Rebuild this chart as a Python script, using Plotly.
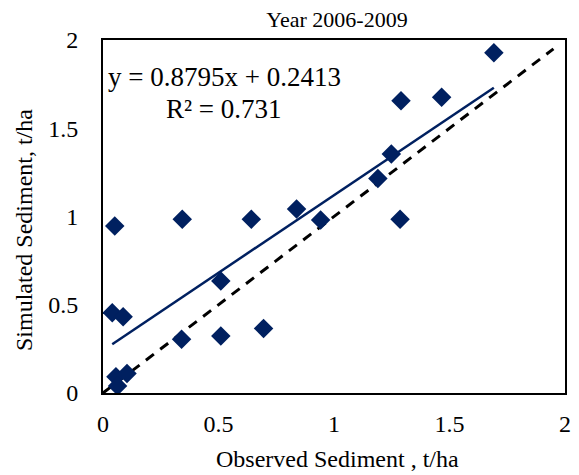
import plotly.graph_objects as go

# Data
observed = [0.051, 0.343, 0.642, 0.838, 0.942, 0.040, 0.087, 0.510, 0.340, 0.510,
            0.695, 0.056, 0.104, 0.063, 1.692, 1.290, 1.466, 1.248, 1.190, 1.286]
simulated = [0.946, 0.984, 0.984, 1.042, 0.980, 0.455, 0.432, 0.635, 0.304, 0.323,
             0.366, 0.092, 0.111, 0.040, 1.928, 1.656, 1.675, 1.354, 1.216, 0.984]
slope = 0.8795
intercept = 0.2413
r_squared = 0.731
one_to_one = [0, 1.95]
ticks = [0, 0.5, 1, 1.5, 2]
tick_labels = ["0", "0.5", "1", "1.5", "2"]

FONT = "Liberation Serif, Times New Roman, serif"
NAVY = "#002060"
W, H = 579, 475
L, R, T, B = 103, 8, 40, 82
PW, PH = W - L - R, H - T - B


def px(xp):
    return (xp - L) / PW


def py(yp):
    return (H - B - yp) / PH


fit_x = [min(observed), max(observed)]
fit_y = [slope * v + intercept for v in fit_x]

fig = go.Figure()
fig.add_trace(go.Scatter(x=one_to_one, y=one_to_one, mode="lines",
                         line=dict(color="black", width=3, dash="10px,8px"),
                         showlegend=False, hoverinfo="skip"))
fig.add_trace(go.Scatter(x=fit_x, y=fit_y, mode="lines",
                         line=dict(color=NAVY, width=2.5),
                         showlegend=False, hoverinfo="skip"))
fig.add_trace(go.Scatter(x=observed, y=simulated, mode="markers",
                         marker=dict(symbol="diamond", size=15, color=NAVY),
                         showlegend=False))

fig.add_annotation(x=px(226), y=py(77), xref="paper", yref="paper",
                   xanchor="center", yanchor="middle",
                   showarrow=False, text=f"y = {slope}x + {intercept}",
                   font=dict(family=FONT, size=27, color="black"))
fig.add_annotation(x=px(226), y=py(109), xref="paper", yref="paper",
                   xanchor="center", yanchor="middle",
                   showarrow=False, text=f"R² = {r_squared}",
                   font=dict(family=FONT, size=27, color="black"))
# axis titles
fig.add_annotation(x=px(341), y=py(459), xref="paper", yref="paper",
                   xanchor="center", yanchor="middle", showarrow=False, borderpad=0,
                   text="Observed Sediment , t/ha",
                   font=dict(family=FONT, size=24, color="black"))
fig.add_annotation(x=px(23), y=py(230), xref="paper", yref="paper",
                   xanchor="center", yanchor="middle", showarrow=False, textangle=-90,
                   text="Simulated Sediment, t/ha",
                   font=dict(family=FONT, size=24, color="black"))

fig.update_layout(
    width=W, height=H,
    margin=dict(l=L, r=R, t=T, b=B),
    paper_bgcolor="white", plot_bgcolor="white",
    font=dict(family=FONT, color="black", size=24),
    title=dict(text="Year 2006-2009", x=337 / W, xanchor="center",
               y=1 - 19 / H, yanchor="middle",
               font=dict(family=FONT, size=22, color="black")),
)
fig.update_xaxes(range=[0, 2], tickvals=ticks, ticktext=tick_labels,
                 showgrid=False, zeroline=False, showline=True, linecolor="black",
                 linewidth=2, mirror=True, ticks="", ticklabelstandoff=8,
                 tickfont=dict(family=FONT, size=24))
fig.update_yaxes(range=[0, 2], tickvals=ticks, ticktext=tick_labels,
                 showgrid=False, zeroline=False, showline=True, linecolor="black",
                 linewidth=2, mirror=True, ticks="", ticklabelstandoff=18,
                 tickfont=dict(family=FONT, size=24))

fig.write_html("out.html")
